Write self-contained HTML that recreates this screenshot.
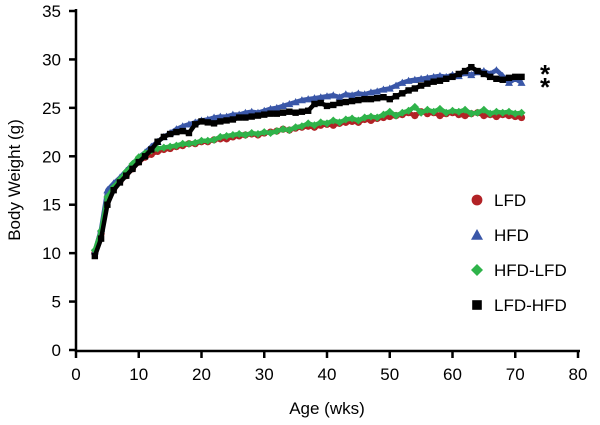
<!DOCTYPE html>
<html><head><meta charset="utf-8"><style>
body{margin:0;background:#fff}
svg{display:block;font-family:"Liberation Sans",Arial,sans-serif}
</style></head><body>
<svg id="chart" width="600" height="425">
<g id="axes"></g><g id="series"></g><g id="legend"></g>
</svg>
<script>
const weeks=[];for(let w=3;w<=71;w++)weeks.push(w);
const lfd=[10,12,15.4,16.6,17.4,18,18.7,19.4,19.9,20.2,20.5,20.7,20.8,21,21.1,21.3,21.3,21.5,21.5,21.7,21.8,21.8,22,22.1,22.2,22.3,22.2,22.4,22.5,22.6,22.8,22.7,22.9,23,23.1,23,23.2,23.3,23.2,23.4,23.5,23.6,23.5,23.8,23.7,23.9,24,24.1,24.2,24.3,24.5,24.2,24.6,24.4,24.5,24.2,24.4,24.5,24.3,24.2,24.4,24.5,24.2,24.3,24.1,24.3,24.2,24.1,24];
const hfd=[10.2,12.5,16.5,17.2,17.8,18.5,19.2,19.9,20.4,21,21.5,22,22.4,22.8,23.1,23.3,23.5,23.7,23.8,24,24.1,24.1,24.3,24.3,24.5,24.6,24.5,24.7,24.9,25,25.2,25.4,25.6,25.8,25.9,26,26.1,26.2,26.3,26.1,26.4,26.3,26.5,26.4,26.6,26.7,26.9,27,27.3,27.6,27.8,27.9,28,28.1,28.2,28.3,28.2,28.4,28.3,28.6,28.4,28.7,28.8,28.5,28.9,28.3,27.6,28.0,27.6];
const hfdlfd=[10.3,12.3,15.8,16.8,17.6,18.4,19.2,19.9,20.3,20.6,20.8,20.9,21,21.1,21.3,21.3,21.4,21.6,21.6,21.7,22,22.1,22.2,22.3,22.2,22.4,22.3,22.5,22.4,22.6,22.8,22.7,23,23.1,23.4,23.2,23.5,23.4,23.7,23.5,23.8,23.9,23.7,24,24.1,24,24.3,24.6,24.2,24.5,24.7,25.1,24.5,24.8,24.6,24.9,24.5,24.7,24.6,24.8,24.4,24.5,24.8,24.4,24.6,24.5,24.6,24.4,24.5];
const lfdhfd=[9.7,11.5,15,16.5,17.3,18,18.7,19.4,20,20.7,21.5,22,22.3,22.5,22.6,22.4,23.3,23.6,23.5,23.4,23.6,23.7,23.8,24,24,24.1,24.2,24.3,24.4,24.4,24.5,24.6,24.5,24.6,24.7,25.4,25.5,25.2,25.3,25.5,25.6,25.7,25.8,25.9,25.9,26,26.1,25.9,26.2,26.5,26.8,27,27.3,27.5,27.7,27.8,28,28.2,28.5,28.8,29.2,28.8,28.5,28.2,28.0,27.9,28.1,28.2,28.2];
const yTicks=[0,5,10,15,20,25,30,35];
const xTicks=[0,10,20,30,40,50,60,70,80];
const seriesNames=["LFD","HFD","HFD-LFD","LFD-HFD"];
const seriesColors=["#b22226","#3a57a8","#2fb34a","#000000"];
const seriesData=[lfd,hfd,hfdlfd,lfdhfd];
const NS="http://www.w3.org/2000/svg";
const x=v=>76+v*(578-76)/80, y=v=>350-v*(350-11)/35;
function mk(t,a,p){const e=document.createElementNS(NS,t);for(const k in a)e.setAttribute(k,a[k]);p.appendChild(e);return e;}
const ax=document.getElementById('axes');
let l=mk('line',{x1:76,y1:9,x2:76,y2:352,stroke:'#000','stroke-width':2.5},ax);


l=mk('line',{x1:75,y1:351,x2:580,y2:351,stroke:'#000','stroke-width':2.5},ax);


yTicks.forEach(v=>{mk('line',{x1:69,x2:76,y1:y(v),y2:y(v),stroke:'#000','stroke-width':2.5},ax);
const t=mk('text',{x:61,y:y(v)+6,'text-anchor':'end','font-size':17},ax);t.textContent=v;

});
xTicks.forEach(v=>{mk('line',{x1:x(v),x2:x(v),y1:351,y2:358,stroke:'#000','stroke-width':2.5},ax);
const t=mk('text',{x:x(v),y:380,'text-anchor':'middle','font-size':17},ax);t.textContent=v;

});
let t=mk('text',{x:327,y:414,'text-anchor':'middle','font-size':17},ax);t.textContent='Age (wks)';


t=mk('text',{x:0,y:0,'text-anchor':'middle','font-size':17,transform:'translate(20,180) rotate(-90)'},ax);t.textContent='Body Weight (g)';


function marker(i,cx,cy,s,p){
 if(i===0)return mk('circle',{cx:cx,cy:cy,r:s*0.9,fill:seriesColors[i]},p);
 if(i===1)return mk('polygon',{points:`${cx},${cy-s} ${cx-s},${cy+s*0.8} ${cx+s},${cy+s*0.8}`,fill:seriesColors[i]},p);
 if(i===2)return mk('polygon',{points:`${cx},${cy-s} ${cx+s},${cy} ${cx},${cy+s} ${cx-s},${cy}`,fill:seriesColors[i]},p);
 return mk('rect',{x:cx-s*0.8,y:cy-s*0.8,width:s*1.6,height:s*1.6,fill:seriesColors[i]},p);
}
const sg=document.getElementById('series');
seriesData.forEach((d,i)=>{
 const g=mk('g',{},sg);
 
 
 mk('polyline',{points:d.map((v,k)=>x(weeks[k])+','+y(v)).join(' '),fill:'none',stroke:seriesColors[i],'stroke-width':4.5,'stroke-linejoin':'round'},g);
 d.forEach((v,k)=>{const m=marker(i,x(weeks[k]),y(v),4,g);
 
 });
});
t=mk('text',{x:540,y:83,'font-size':26,'font-weight':'bold'},ax);t.textContent='*';


t=mk('text',{x:540,y:96,'font-size':26,'font-weight':'bold'},ax);t.textContent='*';


const lg=document.getElementById('legend');
seriesNames.forEach((n,i)=>{
 const cy=200+i*35;
 const g=mk('g',{},lg);
 
 
 marker(i,477,cy,6,g);
 const tt=mk('text',{x:494,y:cy+6,'font-size':17},g);tt.textContent=n;
});
</script>
</body></html>
